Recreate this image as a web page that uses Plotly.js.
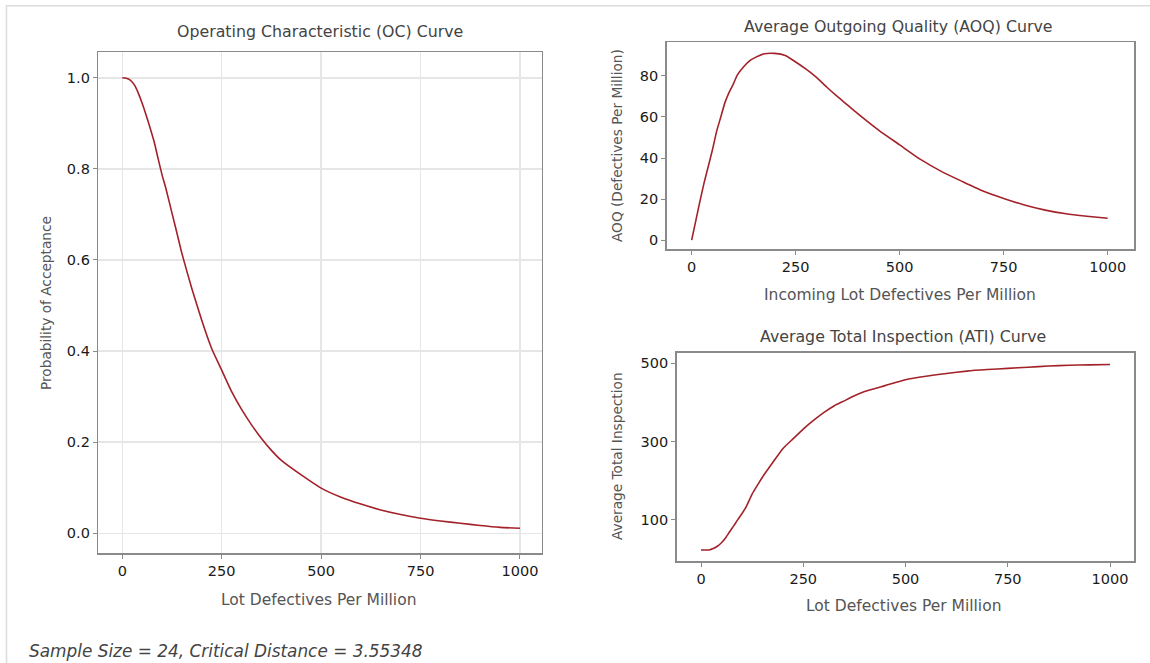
<!DOCTYPE html>
<html>
<head>
<meta charset="utf-8">
<script src="https://cdn.plot.ly/plotly-3.0.1.min.js"></script>
<style>
html,body{margin:0;padding:0;background:#fff;}
#chart{width:1150px;height:663px;}
</style>
</head>
<body>
<div id="chart"></div>
<script>
// Lot defectives per million (shared x values)
const lotDefectives = [0,10,20,30,40,50,60,70,80,90,100,110,125,140,150,175,200,225,250,275,300,325,350,375,400,450,500,550,600,650,700,750,800,850,900,950,1000];
// Probability of acceptance (OC curve)
const probAccept = [1.0,0.999,0.995,0.985,0.967,0.944,0.918,0.890,0.860,0.823,0.787,0.756,0.703,0.650,0.614,0.537,0.467,0.405,0.358,0.311,0.272,0.238,0.208,0.182,0.160,0.128,0.099,0.079,0.064,0.051,0.041,0.033,0.027,0.022,0.017,0.013,0.011];
// Average outgoing quality (defectives per million)
const aoqValues = [0,9.5,19,28,36,44,53,60,67,72,76,80.5,84.5,87.5,88.7,90.8,91,90,86.8,83.3,79.3,74.5,70,65.8,61.5,53.5,46.4,39.3,33.5,28.6,23.9,20.3,17.1,14.6,12.8,11.6,10.6];
// Average total inspection
const atiValues = [23.5,23.5,23.5,27,33,42,54,70,85,101,116,133,166,192,209,246,282,307,332,354,374,391,404,417,428,443,458,467,474,480,484,487,490,493,495,496,497];

const chartTitles = ["Operating Characteristic (OC) Curve","Average Outgoing Quality (AOQ) Curve","Average Total Inspection (ATI) Curve"];
const xTitles = ["Lot Defectives Per Million","Incoming Lot Defectives Per Million","Lot Defectives Per Million"];
const yTitles = ["Probability of Acceptance","AOQ (Defectives Per Million)","Average Total Inspection"];
const footnote = "Sample Size = 24, Critical Distance = 3.55348";

const W = 1150, H = 663;
const px = v => v / W;
const py = v => 1 - v / H;

const lineColor = '#a3222a';
const FONT = '"DejaVu Sans", sans-serif';

const lineStyle = {color: lineColor, width: 1.6, shape: 'spline', smoothing: 0.5};
const traces = [
  {x: lotDefectives, y: probAccept, xaxis: 'x', yaxis: 'y', mode: 'lines', line: lineStyle, hoverinfo: 'skip'},
  {x: lotDefectives, y: aoqValues, xaxis: 'x2', yaxis: 'y2', mode: 'lines', line: lineStyle, hoverinfo: 'skip'},
  {x: lotDefectives, y: atiValues, xaxis: 'x3', yaxis: 'y3', mode: 'lines', line: lineStyle, hoverinfo: 'skip'}
];

const baseAxis = {
  showline: true, mirror: true, linecolor: '#8a8a8a', linewidth: 1.5,
  ticks: 'outside', ticklen: 4, tickcolor: '#8a8a8a', tickwidth: 1,
  tickfont: {family: FONT, size: 14.5, color: '#1a1a1a'},
  zeroline: false, fixedrange: true
};

const layout = {
  width: W, height: H,
  margin: {l: 0, r: 0, t: 0, b: 0, pad: 0},
  paper_bgcolor: '#fff', plot_bgcolor: '#fff',
  showlegend: false,
  font: {family: FONT},
  xaxis: Object.assign({}, baseAxis, {domain: [px(98.3), px(541.7)], range: [-60.3, 1054.6], tickvals: [0,250,500,750,1000], showgrid: true, gridcolor: '#e6e6e6', gridwidth: 1.5, anchor: 'y'}),
  yaxis: Object.assign({}, baseAxis, {domain: [py(553.3), py(52.3)], range: [-0.044, 1.056], tickvals: [0,0.2,0.4,0.6,0.8,1.0], tickformat: '.1f', showgrid: true, gridcolor: '#e6e6e6', gridwidth: 1.5, anchor: 'x'}),
  xaxis2: Object.assign({}, baseAxis, {domain: [px(666.7), px(1134.3)], range: [-60, 1064], tickvals: [0,250,500,750,1000], showgrid: false, anchor: 'y2'}),
  yaxis2: Object.assign({}, baseAxis, {domain: [py(249.3), py(42.3)], range: [-4.5, 96.4], tickvals: [0,20,40,60,80], showgrid: false, anchor: 'x2'}),
  xaxis3: Object.assign({}, baseAxis, {domain: [px(676.7), px(1134.3)], range: [-59.4, 1059.4], tickvals: [0,250,500,750,1000], showgrid: false, anchor: 'y3'}),
  yaxis3: Object.assign({}, baseAxis, {domain: [py(561), py(352.7)], range: [-4.7, 527], tickvals: [100,300,500], showgrid: false, anchor: 'x3'}),
  shapes: [
    {type: 'rect', xref: 'paper', yref: 'paper', x0: px(6.5), x1: 1.05, y0: -0.05, y1: py(5.7), line: {color: '#dcdcdc', width: 1.5}, fillcolor: 'rgba(0,0,0,0)', layer: 'below'}
  ],
  annotations: [
    {text: chartTitles[0], x: px(320), y: py(31), xref: 'paper', yref: 'paper', showarrow: false, xanchor: 'center', yanchor: 'middle', font: {family: FONT, size: 15.8, color: '#444'}},
    {text: chartTitles[1], x: px(898), y: py(27), xref: 'paper', yref: 'paper', showarrow: false, xanchor: 'center', yanchor: 'middle', font: {family: FONT, size: 15.8, color: '#444'}},
    {text: chartTitles[2], x: px(903), y: py(336.5), xref: 'paper', yref: 'paper', showarrow: false, xanchor: 'center', yanchor: 'middle', font: {family: FONT, size: 15.8, color: '#444'}},
    {text: xTitles[0], x: px(318.5), y: py(599.5), xref: 'paper', yref: 'paper', showarrow: false, xanchor: 'center', yanchor: 'middle', font: {family: FONT, size: 15.5, color: '#555'}},
    {text: xTitles[1], x: px(900), y: py(295), xref: 'paper', yref: 'paper', showarrow: false, xanchor: 'center', yanchor: 'middle', font: {family: FONT, size: 15.5, color: '#555'}},
    {text: xTitles[2], x: px(903), y: py(606), xref: 'paper', yref: 'paper', showarrow: false, xanchor: 'center', yanchor: 'middle', font: {family: FONT, size: 15.5, color: '#555'}},
    {text: yTitles[0], x: px(46), y: py(303), xref: 'paper', yref: 'paper', showarrow: false, textangle: -90, xanchor: 'center', yanchor: 'middle', font: {family: FONT, size: 13.7, color: '#555'}},
    {text: yTitles[1], x: px(617), y: py(146), xref: 'paper', yref: 'paper', showarrow: false, textangle: -90, xanchor: 'center', yanchor: 'middle', font: {family: FONT, size: 13.7, color: '#555'}},
    {text: yTitles[2], x: px(617), y: py(456), xref: 'paper', yref: 'paper', showarrow: false, textangle: -90, xanchor: 'center', yanchor: 'middle', font: {family: FONT, size: 13.7, color: '#555'}},
    {text: '<i>' + footnote + '</i>', x: px(27), y: py(650.5), xref: 'paper', yref: 'paper', showarrow: false, xanchor: 'left', yanchor: 'middle', font: {family: FONT, size: 16.9, color: '#444'}}
  ]
};

Plotly.newPlot('chart', traces, layout, {displayModeBar: false, staticPlot: true});
</script>
</body>
</html>
